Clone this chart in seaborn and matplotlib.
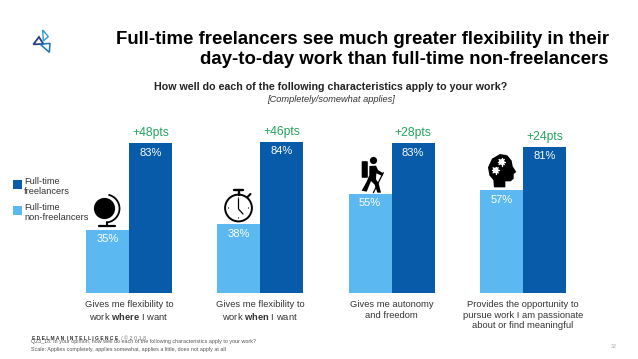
import numpy as np
import pandas as pd
import matplotlib
matplotlib.use("Agg")
import matplotlib.pyplot as plt
import seaborn as sns
from matplotlib.patches import Arc, Circle, FancyBboxPatch, Polygon

# Chart values
categories = [
    "Gives me flexibility to\nwork $\\mathbf{where}$ I want",
    "Gives me flexibility to\nwork $\\mathbf{when}$ I want",
    "Gives me autonomy\nand freedom",
    "Provides the opportunity to\npursue work I am passionate\nabout or find meaningful",
]
freelancers     = [83, 84, 83, 81]
non_freelancers = [35, 38, 55, 57]
pts_labels      = ["+48pts", "+46pts", "+28pts", "+24pts"]
group_names     = ["Full-time\nnon-freelancers", "Full-time\nfreelancers"]

LIGHT = "#5BB8F1"
DARK  = "#075BA8"
GREEN = "#23A45F"
W, H  = 638, 359

sns.set_theme(style="white")
plt.rcParams["font.family"]      = ["Liberation Sans", "DejaVu Sans"]
plt.rcParams["mathtext.fontset"] = "custom"
plt.rcParams["mathtext.rm"]      = "Liberation Sans"
plt.rcParams["mathtext.bf"]      = "Liberation Sans:bold"

df = pd.DataFrame({
    "category": categories * 2,
    "group"   : [group_names[0]] * 4 + [group_names[1]] * 4,
    "value"   : non_freelancers + freelancers,
})

fig = plt.figure(figsize=(W / 100, H / 100), dpi=100)

# Bars: one category is 131.3 px wide, 1% is 1.8 px tall
ax = fig.add_axes([63.35 / W, (H - 292.7) / H, 525.2 / W, 180 / H])
sns.barplot(df, x="category", y="value", hue="group", order=categories, hue_order=group_names,
            palette=[LIGHT, DARK], width=0.655, gap=0, saturation=1, linewidth=0, ax=ax)
ax.set_xlim(-0.5, 3.5)
ax.set_ylim(0, 100)
ax.set_xlabel(""); ax.set_ylabel("")
ax.set_yticks([])
ax.tick_params(axis="x", length=0, pad=5, labelsize=6.75, labelcolor="#333333")
for lab in ax.get_xticklabels():
    lab.set_linespacing(1.27)
sns.despine(ax=ax, left=True, bottom=True)

for bars in ax.containers:
    ax.bar_label(bars, fmt="%d%%", padding=-10.5, color="white", fontsize=8)

for i, (val, txt) in enumerate(zip(freelancers, pts_labels)):
    ax.text(i + 0.164, val + 5.5, txt, color=GREEN, fontsize=8.7, ha="center", va="center")

handles, labels = ax.get_legend_handles_labels()
leg = ax.legend(handles[::-1], labels[::-1], loc="upper left", bbox_to_anchor=(5 / W, (H - 168.5) / H),
                bbox_transform=fig.transFigure, frameon=False, fontsize=6.7, handlelength=0.95,
                handleheight=1.1, handletextpad=0.2, labelspacing=0.72, labelcolor="#333333")
# Squares sit level with the first text line
for patch in leg.get_patches():
    patch.set_y(patch.get_y() + 2)

# Overlay in pixel coordinates for the text and pictograms
ov = fig.add_axes([0, 0, 1, 1], facecolor="none")
ov.set_xlim(0, W); ov.set_ylim(H, 0); ov.axis("off")

ov.text(609, 39, "Full-time freelancers see much greater flexibility in their", ha="right", va="center",
        fontsize=13.4, fontweight="bold", color="black")
ov.text(609, 60, "day-to-day work than full-time non-freelancers", ha="right", va="center",
        fontsize=13.4, fontweight="bold", color="black")
ov.text(331, 87, "How well do each of the following characteristics apply to your work?", ha="center", va="center",
        fontsize=7.7, fontweight="bold", color="#222222")
ov.text(331, 99, "[Completely/somewhat applies]", ha="center", va="center",
        fontsize=6.7, style="italic", color="#333333")

ov.text(32, 338, "E D E L M A N  I N T E L L I G E N C E", ha="left", va="center", fontsize=3.5,
        fontweight="bold", color="#333333")
ov.text(121, 338, "/ © 2 0 1 8", ha="left", va="center", fontsize=3.9, color="#777777")
ov.text(31, 342, "Q23_18: In your opinion, how well do each of the following characteristics apply to your work?",
        ha="left", va="center", fontsize=3.85, color="#555555")
ov.text(31, 349, "Scale: Applies completely, applies somewhat, applies a little, does not apply at all",
        ha="left", va="center", fontsize=3.85, color="#555555")
ov.text(613.5, 346, "32", ha="center", va="center", fontsize=3.8, color="#aaaaaa")


def from_zoom(points, x0, y0):
    return [(x0 + px / 3, y0 + py / 3) for px, py in points]


def draw_logo():
    navy, blue = "#2C3F85", "#1B75B5"
    tri_top   = from_zoom([(53, 15), (70, 35), (55, 48)], 25, 25)
    tri_left  = from_zoom([(25, 58), (42, 36), (55, 57)], 25, 25)
    tri_right = from_zoom([(46, 58), (75, 55), (73, 82)], 25, 25)
    ov.add_patch(Polygon(tri_top, closed=True, fill=False, ec="#2A9AD6", lw=1.0))
    ov.add_patch(Polygon(tri_left, closed=True, fill=False, ec=navy, lw=1.3))
    ov.add_patch(Polygon(tri_right, closed=True, fill=False, ec=blue, lw=1.1))


def draw_globe():
    ov.add_patch(Circle((104.5, 208.5), 10.6, fc="black", ec="none"))
    ov.add_patch(Arc((105.5, 208.5), 28, 28, angle=0, theta1=-78, theta2=80, ec="black", lw=1.3))
    ov.plot([107, 107], [222, 226], color="black", lw=1.4)
    ov.plot([98.5, 114.5], [226, 226], color="black", lw=1.6, solid_capstyle="round")


def draw_watch():
    cx, cy = 238.5, 208
    ov.add_patch(Circle((cx, cy), 13.4, fc="white", ec="black", lw=1.4))
    ov.plot([234, 243], [190, 190], color="black", lw=1.7)
    ov.plot([cx, cx], [190, 195], color="black", lw=1.7)
    ov.plot([247.5, 250.5], [197, 194], color="black", lw=1.5)
    ov.plot([cx, cx, cx + 4.5], [199, cy + 1, cy + 6], color="black", lw=0.9)
    for ang in np.arange(0, 2 * np.pi, np.pi / 2):
        ov.add_patch(Circle((cx + 10 * np.cos(ang), cy + 10 * np.sin(ang)), 0.6, fc="black", ec="none"))


def draw_hiker():
    x0, y0 = 350, 150
    ov.add_patch(Circle((373.5, 160.5), 3.6, fc="black", ec="none"))
    ov.add_patch(FancyBboxPatch((362.5, 162), 4.5, 15, boxstyle="round,pad=0.8", fc="black", ec="none"))
    body = [(58, 48), (78, 47), (84, 60), (100, 70), (97, 78), (79, 70), (78, 88), (86, 100), (93, 128),
            (82, 128), (74, 104), (63, 93), (50, 125), (35, 122), (50, 95), (58, 75)]
    ov.add_patch(Polygon(from_zoom(body, x0, y0), closed=True, fc="black", ec="none"))
    ov.plot(*zip(*from_zoom([(100, 68), (70, 128)], x0, y0)), color="black", lw=0.9)


def gear(cx, cy, r):
    for ang in np.arange(0, np.pi, np.pi / 4):
        dx, dy = r * 1.25 * np.cos(ang), r * 1.25 * np.sin(ang)
        ov.plot([cx - dx, cx + dx], [cy - dy, cy + dy], color="white", lw=1.0)
    ov.add_patch(Circle((cx, cy), r, fc="white", ec="none"))
    ov.add_patch(Circle((cx, cy), r * 0.42, fc="black", ec="none"))


def draw_head():
    x0, y0 = 480, 148
    head = [(42, 118), (40, 96), (28, 82), (24, 58), (36, 32), (60, 18), (82, 22), (95, 38), (98, 55),
            (109, 72), (101, 78), (101, 92), (92, 100), (76, 100), (76, 118)]
    ov.add_patch(Polygon(from_zoom(head, x0, y0), closed=True, fc="black", ec="none"))
    gear(x0 + 65 / 3, y0 + 42 / 3, 2.9)
    gear(x0 + 47 / 3, y0 + 67 / 3, 2.9)


draw_logo()
draw_globe()
draw_watch()
draw_hiker()
draw_head()

fig.savefig("out.png", dpi=100)
